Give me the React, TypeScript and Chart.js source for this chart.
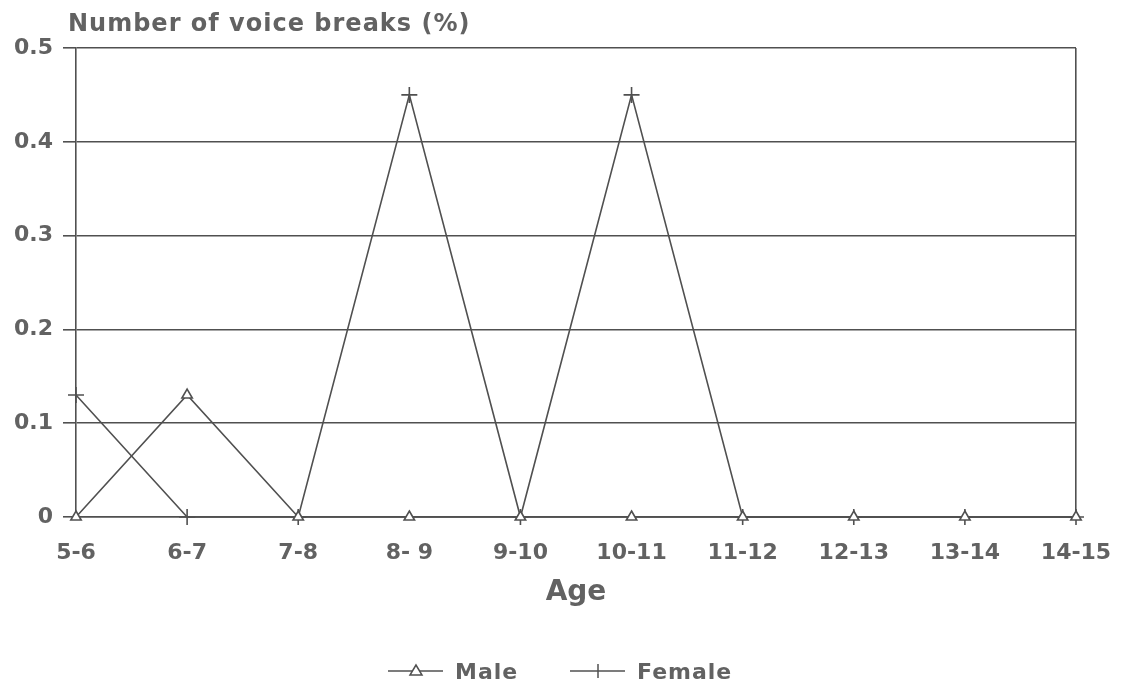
import React, { useEffect, useRef } from "react";
import { Chart, registerables } from "chart.js";

Chart.register(...registerables);

const categories = ["5-6", "6-7", "7-8", "8- 9", "9-10", "10-11", "11-12", "12-13", "13-14", "14-15"];
const maleValues = [0, 0.13, 0, 0, 0, 0, 0, 0, 0, 0];
const femaleValues = [0.13, 0, 0, 0.45, 0, 0.45, 0, 0, 0, 0];
const yTicks = [0, 0.1, 0.2, 0.3, 0.4, 0.5];
const seriesNames = ["Male", "Female"];
const yTitle = "Number of voice breaks (%)";
const xTitle = "Age";

const LINE = "#505050";
const TEXT = "#626262";
const FONT = "'DejaVu Sans', 'Liberation Sans', sans-serif";

const extrasPlugin = {
  id: "extras",
  afterDraw(chart: any) {
    const ctx = chart.ctx;
    ctx.save();
    // y axis title
    ctx.fillStyle = TEXT;
    ctx.font = `bold 24px ${FONT}`;
    try { ctx.letterSpacing = "1px"; } catch (e) {}
    ctx.textAlign = "left";
    ctx.textBaseline = "middle";
    ctx.fillText(yTitle, 68, 25);

    // legend
    const ly = 671;
    const items = [
      { x: 388, name: seriesNames[0], style: "triangle" },
      { x: 570, name: seriesNames[1], style: "cross" },
    ];
    ctx.font = `bold 22px ${FONT}`;
    for (const it of items) {
      ctx.strokeStyle = LINE;
      ctx.lineWidth = 1.5;
      ctx.beginPath();
      ctx.moveTo(it.x, ly);
      ctx.lineTo(it.x + 55, ly);
      ctx.stroke();
      const cx = it.x + 28;
      ctx.beginPath();
      if (it.style === "triangle") {
        ctx.moveTo(cx, ly - 6);
        ctx.lineTo(cx - 6, ly + 4);
        ctx.lineTo(cx + 6, ly + 4);
        ctx.closePath();
        ctx.fillStyle = "#ffffff";
        ctx.fill();
        ctx.stroke();
      } else {
        ctx.moveTo(cx, ly - 7);
        ctx.lineTo(cx, ly + 7);
        ctx.stroke();
      }
      ctx.fillStyle = TEXT;
      ctx.textAlign = "left";
      ctx.textBaseline = "middle";
      ctx.fillText(it.name, it.x + 67, ly + 2);
    }
    ctx.restore();
  },
};

export default function App() {
  const ref = useRef<HTMLCanvasElement | null>(null);

  useEffect(() => {
    if (!ref.current) return;
    const chart = new Chart(ref.current, {
      type: "line",
      data: {
        labels: categories,
        datasets: [
          {
            label: seriesNames[0],
            data: maleValues,
            borderColor: LINE,
            borderWidth: 1.6,
            pointStyle: "triangle",
            pointRadius: 6,
            pointBackgroundColor: "#ffffff",
            pointBorderColor: LINE,
            pointBorderWidth: 1.6,
            tension: 0,
            clip: false,
          },
          {
            label: seriesNames[1],
            data: femaleValues,
            borderColor: LINE,
            borderWidth: 1.6,
            pointStyle: "cross",
            pointRadius: 8,
            pointBorderColor: LINE,
            pointBorderWidth: 1.6,
            tension: 0,
            clip: false,
          },
        ],
      },
      options: {
        animation: false,
        responsive: false,
        maintainAspectRatio: false,
        layout: { padding: { left: 0, right: 46, top: 48, bottom: 71 } },
        plugins: {
          legend: { display: false },
          tooltip: { enabled: false },
          title: { display: false },
        },
        scales: {
          x: {
            type: "category",
            offset: false,
            afterFit: (s: any) => {
              s.height = 100;
              s.paddingLeft = 0;
              s.paddingRight = 0;
            },
            grid: {
              drawTicks: false,
              color: (c: any) => (c.index === categories.length - 1 ? LINE : "rgba(0,0,0,0)"),
              lineWidth: 1.6,
            },
            border: { display: true, color: LINE, width: 1.6 },
            ticks: {
              color: TEXT,
              font: { family: FONT, size: 22, weight: "bold" },
              padding: 23,
              maxRotation: 0,
              autoSkip: false,
            },
            title: {
              display: true,
              text: xTitle,
              color: TEXT,
              font: { family: FONT, size: 28, weight: "bold" },
              padding: { top: 0, bottom: 7 },
            },
          },
          y: {
            min: 0,
            max: 0.5,
            afterFit: (s: any) => {
              s.width = 76;
              s.paddingTop = 0;
              s.paddingBottom = 0;
            },
            afterBuildTicks: (s: any) => {
              s.ticks = yTicks.map((v) => ({ value: v }));
            },
            grid: {
              color: LINE,
              lineWidth: 1.6,
              tickLength: 13,
              drawTicks: true,
            },
            border: { display: true, color: LINE, width: 1.6 },
            ticks: {
              color: TEXT,
              font: { family: FONT, size: 22, weight: "bold" },
              padding: 10,
              callback: (v: any) => (Number(v) === 0 ? "0" : Number(v).toFixed(1)),
            },
          },
        },
      },
      plugins: [extrasPlugin],
    });
    return () => chart.destroy();
  }, []);

  return (
    <div style={{ position: "absolute", left: 0, top: 0, width: 1122, height: 688, background: "#ffffff" }}>
      <canvas ref={ref} width={1122} height={688} style={{ display: "block" }} />
    </div>
  );
}
